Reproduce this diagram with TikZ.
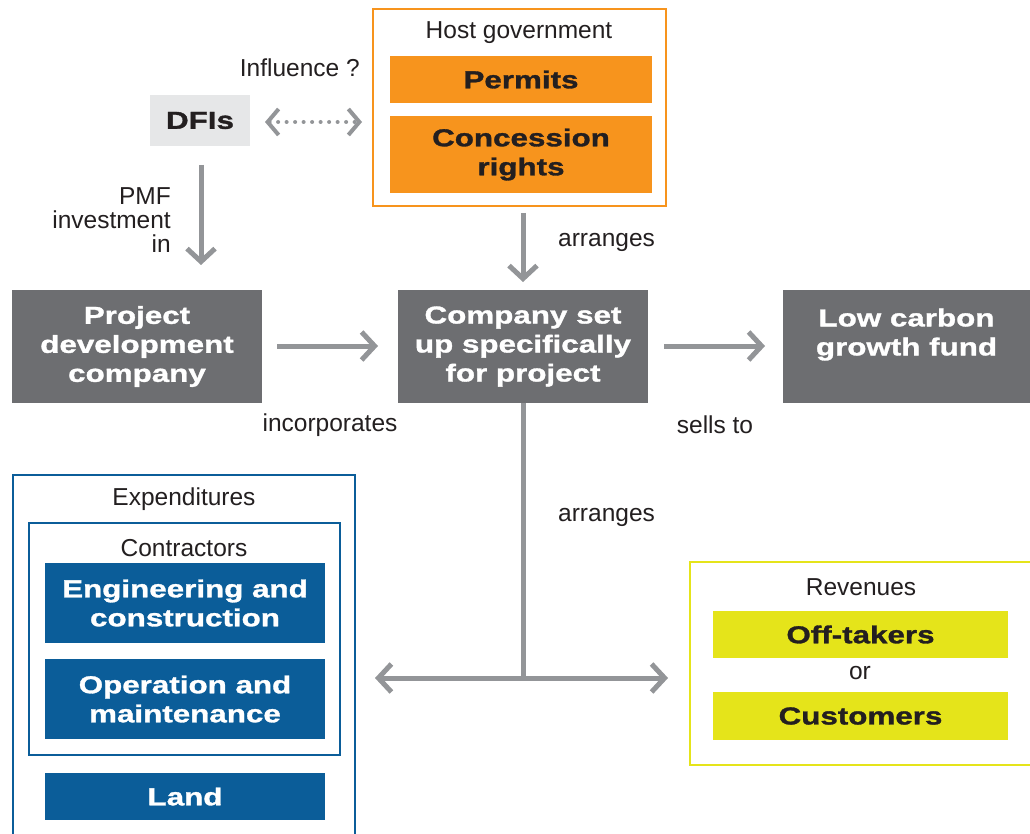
\documentclass[tikz,border=0pt]{standalone}
\usepackage{fontspec}
\setmainfont{Liberation Sans}
\newfontfamily\wbf[FakeStretch=1.28,FakeBold=1.3]{Liberation Sans}
\usetikzlibrary{arrows.meta}
\definecolor{boxgrey}{HTML}{6D6E71}
\definecolor{arrgrey}{HTML}{939598}
\definecolor{lightgrey}{HTML}{E6E7E8}
\definecolor{orng}{HTML}{F7941D}
\definecolor{blu}{HTML}{0B5D99}
\definecolor{yel}{HTML}{E5E41A}
\definecolor{ink}{HTML}{231F20}
\tikzset{
  x=1pt, y=-1pt,
  reg/.style={font=\fontsize{24.5}{24}\selectfont, text=ink, inner sep=0pt, align=center},
  boxbase/.style={inner sep=0pt, align=center, font=\wbf\bfseries\fontsize{24.5}{29}\selectfont},
  greybox/.style={boxbase, fill=boxgrey, text=white},
  orbox/.style={boxbase, fill=orng, text=ink},
  bluebox/.style={boxbase, fill=blu, text=white},
  yelbox/.style={boxbase, fill=yel, text=ink},
  frame/.style={draw=#1, line width=2.5pt, inner sep=0pt},
  conn/.style={draw=arrgrey, line width=5pt},
  tip/.style={-{Straight Barb[length=13pt,width=28pt]}},
}
\begin{document}
\begin{tikzpicture}
\useasboundingbox (0,0) rectangle (1030,834);
\fill[white] (0,0) rectangle (1030,834);
% Host government
\node[frame=orng, minimum width=293pt, minimum height=197pt] (hg) at (519.5,107.5) {};
\node[reg] (hgt) at (519,33) {Host government};
\node[orbox, minimum width=262pt, minimum height=47pt] (permits) at (521,79.5) {Permits};
\node[orbox, minimum width=262pt, minimum height=77pt] (conc) at (521,154.5) {Concession\\rights};
% DFIs
\node[reg, anchor=east] (infl) at (360,68) {Influence ?};
\node[boxbase, fill=lightgrey, text=ink, minimum width=100pt, minimum height=51pt] (dfis) at (200,120.5) {DFIs};
\coordinate (d1) at (265,122);
\coordinate (d2) at (362,122);
\draw[conn, line width=4pt, line cap=round, dash pattern=on 0pt off 8.5pt, {Straight Barb[length=11pt,width=26pt]}-{Straight Barb[length=11pt,width=26pt]}] (d1) -- (d2);
\coordinate (a1) at (201,165);
\coordinate (a2) at (201,265);
\draw[conn, tip] (a1) -- (a2);
\node[reg, anchor=east, align=right] (pmf) at (171,220) {PMF\\investment\\in};
% main row
\node[greybox, minimum width=250pt, minimum height=113pt] (pdc) at (137,346.5) {Project\\development\\company};
\node[greybox, minimum width=250pt, minimum height=113pt] (csp) at (523,346.5) {Company set\\up specifically\\for project};
\node[greybox, minimum width=247pt, minimum height=113pt] (lcf) at (906.5,346.5) {Low carbon\\growth fund\\\mbox{}};
\coordinate (b1) at (523,213);
\coordinate (b2) at (523,282);
\draw[conn, tip] (b1) -- (b2);
\node[reg, anchor=west] (arr1) at (558,242) {arranges};
\coordinate (c1) at (277,346);
\coordinate (c2) at (378,346);
\draw[conn, tip] (c1) -- (c2);
\node[reg] (inc) at (330,425) {incorporates};
\coordinate (e1) at (664,346);
\coordinate (e2) at (765,346);
\draw[conn, tip] (e1) -- (e2);
\node[reg] (sells) at (715,425) {sells to};
% lower connectors
\coordinate (j) at (523,678);
\coordinate (hl) at (375,678);
\coordinate (hr) at (668,678);
\draw[conn] (csp.south) -- (j);
\draw[conn, {Straight Barb[length=13pt,width=28pt]}-{Straight Barb[length=13pt,width=28pt]}] (hl) -- (hr);
\node[reg, anchor=west] (arr2) at (558,517) {arranges};
% Expenditures
\node[frame=blu, minimum width=342pt, minimum height=380pt] (exp) at (184,665) {};
\node[reg] (expt) at (184,499) {Expenditures};
\node[frame=blu, minimum width=311pt, minimum height=232pt] (contr) at (184.5,639) {};
\node[reg] (contrt) at (184,548) {Contractors};
\node[bluebox, minimum width=280pt, minimum height=80pt] (eng) at (185,603) {Engineering and\\construction};
\node[bluebox, minimum width=280pt, minimum height=80pt] (om) at (185,699) {Operation and\\maintenance};
\node[bluebox, minimum width=280pt, minimum height=47pt] (land) at (185,796.5) {Land};
% Revenues
\node[frame=yel, minimum width=346pt, minimum height=203pt] (rev) at (863,663.5) {};
\node[reg] (revt) at (861,587) {Revenues};
\node[yelbox, minimum width=295pt, minimum height=47pt] (off) at (860.5,634.5) {Off-takers};
\node[reg] (or) at (860,673) {or};
\node[yelbox, minimum width=295pt, minimum height=48pt] (cust) at (860.5,716) {Customers};
\end{tikzpicture}
\end{document}
